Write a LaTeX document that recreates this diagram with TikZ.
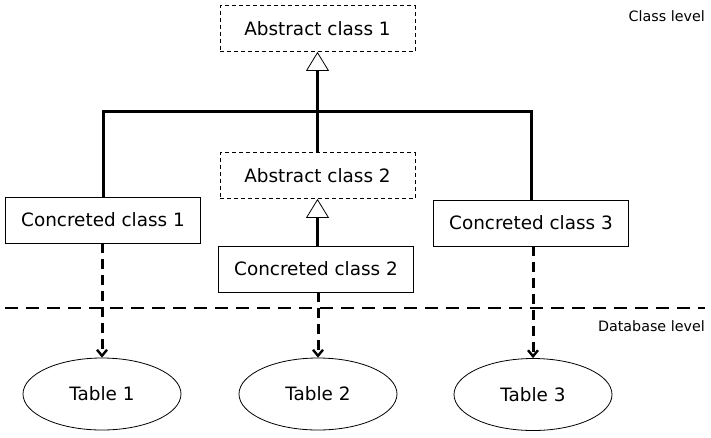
\documentclass[tikz,border=0pt]{standalone}
\usepackage{fontspec}
\setmainfont{DejaVu Sans}
\usetikzlibrary{arrows.meta,shapes.geometric}
\begin{document}
\begin{tikzpicture}[x=1pt,y=-1pt,
  classbox/.style={draw, line width=0.8pt, minimum width=195pt, minimum height=46pt, inner sep=0pt, font=\fontsize{18.4}{22}\selectfont},
  abstractbox/.style={classbox, dash pattern=on 4pt off 3pt},
  tablenode/.style={draw, ellipse, line width=0.8pt, minimum width=158pt, minimum height=72pt, inner sep=0pt, font=\fontsize{18.4}{22}\selectfont},
  levellabel/.style={anchor=base east, inner sep=0pt, font=\fontsize{14.3}{17}\selectfont},
  inherit/.style={line width=3pt, -{Triangle[open, length=19pt, width=23pt, line width=0.8pt]}},
  solidline/.style={line width=3pt},
  mapsto/.style={line width=3pt, dash pattern=on 10pt off 6pt, -{Straight Barb[length=6pt, width=10pt, line width=2.4pt]}},
  levelline/.style={line width=2pt, dash pattern=on 13pt off 8pt}
]
\useasboundingbox (0,0) rectangle (711,437);
\node[abstractbox] (a1) at (317.5,28.5) {Abstract class 1};
\node[abstractbox] (a2) at (317.5,175.5) {Abstract class 2};
\node[classbox] (c1) at (103,220) {Concreted class 1};
\node[classbox] (c2) at (316,269) {Concreted class 2};
\node[classbox] (c3) at (531,223) {Concreted class 3};
\node[tablenode] (t1) at (102,394) {Table 1};
\node[tablenode] (t2) at (318,394) {Table 2};
\node[tablenode] (t3) at (533,394.5) {Table 3};
\node[levellabel] (cl) at (705,21) {Class level};
\node[levellabel] (dl) at (705,331) {Database level};
\coordinate (barmid) at (317.5,111.5);
\coordinate (lvlL) at (5,308);
\coordinate (lvlR) at (705,308);
\draw[solidline] (c1.north) |- (barmid) -| (c3.north);
\draw[inherit] (a2.north) -- (a1.south);
\draw[inherit] (c2.north -| a2.south) -- (a2.south);
\draw[levelline] (lvlL) -- (lvlR);
\draw[mapsto] (c1.south -| t1.north) -- (t1.north);
\draw[mapsto] (c2.south -| t2.north) -- (t2.north);
\draw[mapsto] (c3.south -| t3.north) -- (t3.north);
\end{tikzpicture}
\end{document}
